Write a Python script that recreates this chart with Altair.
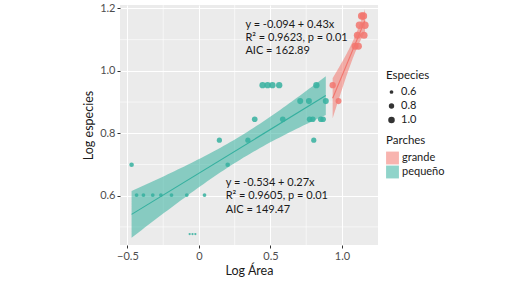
import altair as alt
import pandas as pd
import numpy as np

# ---- data ----
peq_x = [-0.471, -0.436, -0.388, -0.323, -0.266, -0.192, -0.085, 0.039,
         -0.065, -0.045, -0.025, 0.143, 0.201, 0.342, 0.390,
         0.445, 0.480, 0.514, 0.561, 0.586, 0.708, 0.769, 0.774,
         0.796, 0.803, 0.821, 0.852, 0.868, 0.887]
peq_y = [0.699, 0.602, 0.602, 0.602, 0.602, 0.602, 0.602, 0.602,
         0.477, 0.477, 0.477, 0.778, 0.699, 0.778, 0.845,
         0.954, 0.954, 0.954, 0.954, 0.845, 0.903, 0.903, 0.845,
         0.845, 0.778, 0.954, 0.845, 0.845, 0.903]
gra_x = [0.935, 0.976, 1.092, 1.115, 1.108, 1.154, 1.122, 1.161, 1.138, 1.150]
gra_y = [0.954, 0.903, 1.079, 1.079, 1.114, 1.114, 1.146, 1.146, 1.176, 1.176]

grupos = ["grande", "pequeño"]
colores = ["#F2766E", "#35B09F"]

ann_text = ["y = -0.094 + 0.43x", "R² = 0.9623, p = 0.01", "AIC = 162.89",
            "y = -0.534 + 0.27x", "R² = 0.9605, p = 0.01", "AIC = 149.47"]
ann_x = [0.325, 0.325, 0.325, 0.187, 0.187, 0.187]
ann_y = [1.148, 1.104, 1.063, 0.641, 0.600, 0.554]

x_ticks = [-0.5, 0, 0.5, 1.0]
y_ticks = [0.6, 0.8, 1.0, 1.2]
x_minor = [-0.25, 0.25, 0.75]
y_minor = [0.5, 0.7, 0.9, 1.1]
size_legend = [0.6, 0.8, 1.0]

T975 = {8: 2.306, 27: 2.052}  # Student t quantiles for 95% CI


def ci_band(xs, ys, name):
    x = np.array(xs)
    y = np.array(ys)
    n = len(x)
    b, a = np.polyfit(x, y, 1)
    res = y - (a + b * x)
    s = np.sqrt((res ** 2).sum() / (n - 2))
    xbar = x.mean()
    sxx = ((x - xbar) ** 2).sum()
    g = np.linspace(x.min(), x.max(), 60)
    fit = a + b * g
    se = s * np.sqrt(1 / n + (g - xbar) ** 2 / sxx)
    t = T975[n - 2]
    return pd.DataFrame({"x": g, "lo": fit - t * se, "hi": fit + t * se, "Parches": name})


pts = pd.concat([
    pd.DataFrame({"x": peq_x, "y": peq_y, "Parches": "pequeño"}),
    pd.DataFrame({"x": gra_x, "y": gra_y, "Parches": "grande"}),
], ignore_index=True)
bands = pd.concat([ci_band(peq_x, peq_y, "pequeño"), ci_band(gra_x, gra_y, "grande")],
                  ignore_index=True)
ann = pd.DataFrame({"t": ann_text, "x": ann_x, "y": ann_y})

xs = alt.Scale(domain=[-0.552, 1.252], nice=False, zero=False)
ys = alt.Scale(domain=[0.442, 1.211], nice=False, zero=False)
cs = alt.Scale(domain=grupos, range=colores)

x_axis = alt.Axis(values=x_ticks, title="Log Área",
                  labelExpr="datum.value == 0 ? '0' : format(datum.value, '.1f')")
y_axis = alt.Axis(values=y_ticks, title="Log especies", format=".1f")

minor_x = alt.Chart(pd.DataFrame({"v": x_minor})).mark_rule(
    color="white", strokeWidth=0.6).encode(x=alt.X("v:Q", scale=xs, axis=x_axis))
minor_y = alt.Chart(pd.DataFrame({"v": y_minor})).mark_rule(
    color="white", strokeWidth=0.6).encode(y=alt.Y("v:Q", scale=ys, axis=y_axis))

band = alt.Chart(bands).mark_area(opacity=0.55).encode(
    x=alt.X("x:Q", scale=xs, axis=x_axis),
    y=alt.Y("lo:Q", scale=ys, axis=y_axis),
    y2="hi:Q",
    color=alt.Color("Parches:N", scale=cs, legend=alt.Legend(
        title="Parches", orient="none", legendX=266, legendY=130,
        symbolType="square", symbolSize=165, symbolOpacity=0.55,
        symbolStrokeWidth=0, labelFontSize=11, titleFontSize=11.5,
        titleFontWeight="normal", rowPadding=1, labelOffset=3)),
)

line = alt.Chart(pts).transform_regression(
    "x", "y", groupby=["Parches"]).mark_line(strokeWidth=1.1).encode(
    x=alt.X("x:Q", scale=xs, axis=x_axis),
    y=alt.Y("y:Q", scale=ys, axis=y_axis),
    color=alt.Color("Parches:N", scale=cs, legend=None),
)

points = alt.Chart(pts).mark_circle(opacity=0.85).encode(
    x=alt.X("x:Q", scale=xs, axis=x_axis),
    y=alt.Y("y:Q", scale=ys, axis=y_axis),
    color=alt.Color("Parches:N", scale=cs, legend=None),
    size=alt.Size("y:Q", scale=alt.Scale(domain=[0.477, 1.176], range=[5, 56], zero=False),
                  legend=alt.Legend(title="Especies", orient="none", legendX=266, legendY=65,
                                    values=size_legend, format=".1f",
                                    symbolFillColor="#333333", symbolStrokeWidth=0,
                                    symbolOpacity=1, labelFontSize=11, titleFontSize=11.5,
                                    titleFontWeight="normal", rowPadding=2)),
)

text = alt.Chart(ann).mark_text(align="left", baseline="middle", fontSize=11,
                                color="#1a1a1a").encode(
    x=alt.X("x:Q", scale=xs, axis=x_axis),
    y=alt.Y("y:Q", scale=ys, axis=y_axis),
    text="t:N",
)

chart = alt.layer(minor_x, minor_y, band, line, points, text).properties(
    width=258, height=240,
    autosize=alt.AutoSizeParams(type="none"),
    padding={"left": 120, "top": 5, "right": 150, "bottom": 37},
    background="white",
).configure(font="Lato").configure_view(
    fill="#EBEBEB", stroke=None
).configure_axis(
    grid=True, gridColor="white", gridWidth=1.1, domain=False,
    tickColor="#333333", tickSize=3, labelPadding=2,
    labelColor="#4D4D4D", labelFontSize=11,
    titleFontSize=12.5, titleFontWeight="normal", titleColor="#1a1a1a",
).configure_axisY(titlePadding=4).configure_axisX(titlePadding=3).configure_legend(
    labelColor="#1a1a1a", titleColor="#1a1a1a")

chart.save("out.html", embed_options={"renderer": "svg", "actions": False})
